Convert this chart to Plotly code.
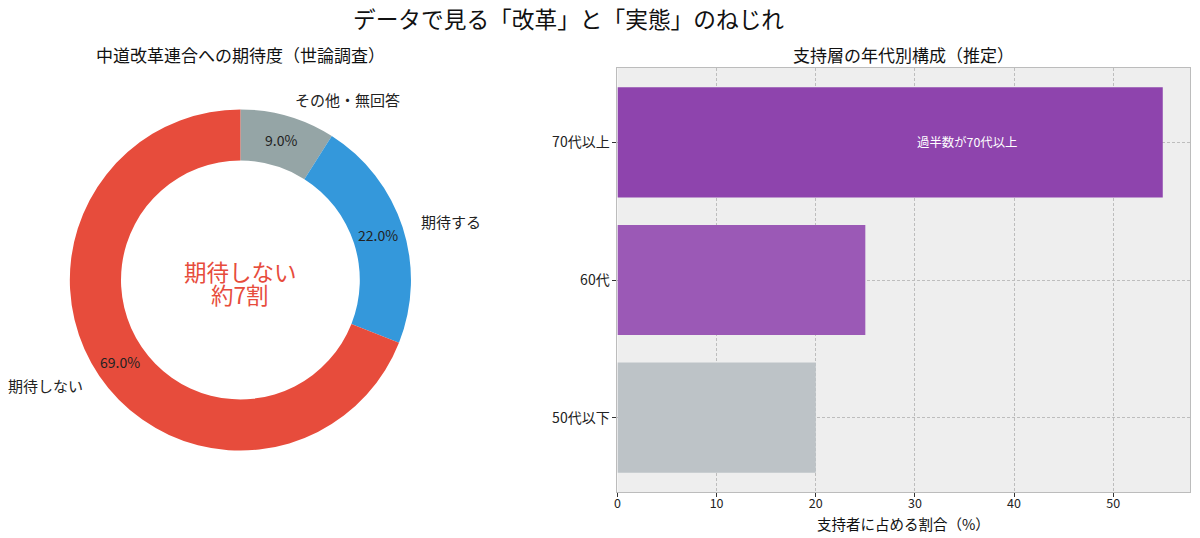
import numpy as np
import plotly.graph_objects as go

# --- data ---
pie_labels = ["その他・無回答", "期待する", "期待しない"]
pie_values = [9, 22, 69]
pie_colors = ["#95a5a6", "#3498db", "#e74c3c"]

age_groups = ["50代以下", "60代", "70代以上"]
age_shares = [20, 25, 55]
age_colors = ["#bdc3c7", "#9b59b6", "#8e44ad"]

center_lines = ["期待しない", "約7割"]

W, H = 1200, 538
FONT = "Noto Sans CJK JP"

# donut placement (pixels)
cx, cy, R = 238, 280, 171


def px_x(x):
    return x / W


def px_y(y):
    return 1 - y / H


fig = go.Figure()

fig.add_trace(go.Pie(
    labels=pie_labels,
    values=pie_values,
    marker=dict(colors=pie_colors, line=dict(width=0)),
    hole=0.7,
    sort=False,
    direction="clockwise",
    rotation=0,
    textinfo="none",
    hoverinfo="label+percent",
    showlegend=False,
    domain=dict(x=[px_x(cx - R), px_x(cx + R)], y=[px_y(cy + R), px_y(cy - R)]),
))

fig.add_trace(go.Bar(
    x=age_shares,
    y=age_groups,
    orientation="h",
    width=0.8,
    marker=dict(color=age_colors, line=dict(width=0)),
    showlegend=False,
    xaxis="x",
    yaxis="y",
))

# invisible trace on an overlay subplot so the grid is drawn above the bars
fig.add_trace(go.Scatter(
    x=age_shares,
    y=age_groups,
    mode="markers",
    marker=dict(opacity=0),
    hoverinfo="skip",
    showlegend=False,
    xaxis="x2",
    yaxis="y2",
))

annotations = []

# pie labels / percentages, placed like matplotlib (labeldistance 1.1, pctdistance 0.85)
total = float(sum(pie_values))
cum = 0.0
for lab, v in zip(pie_labels, pie_values):
    frac = v / total
    ang = np.deg2rad(90 - 360 * (cum + frac / 2))
    cum += frac
    lx, ly = cx + 1.1 * R * np.cos(ang), cy - 1.1 * R * np.sin(ang)
    annotations.append(dict(
        x=px_x(lx), y=px_y(ly), xref="paper", yref="paper",
        text=lab, showarrow=False,
        xanchor="left" if np.cos(ang) > 0 else "right", yanchor="middle",
        font=dict(family=FONT, size=15, color="#222"),
    ))
    tx, ty = cx + 0.85 * R * np.cos(ang), cy - 0.85 * R * np.sin(ang)
    annotations.append(dict(
        x=px_x(tx), y=px_y(ty), xref="paper", yref="paper",
        text=f"{frac * 100:.1f}%", showarrow=False,
        xanchor="center", yanchor="middle",
        font=dict(family=FONT, size=14, color="#222"),
    ))

# centre text (two lines, tight spacing)
for i, line in enumerate(center_lines):
    annotations.append(dict(
        x=px_x(cx), y=px_y(cy - 9 + 23 * i), xref="paper", yref="paper",
        text=line, showarrow=False,
        xanchor="center", yanchor="middle",
        font=dict(family=FONT, size=22.5, color="#e74c3c"),
    ))

# bar annotation
annotations.append(dict(
    x=30, y="70代以上", xref="x", yref="y",
    text="過半数が70代以上", showarrow=False,
    xanchor="left", yanchor="middle",
    font=dict(family=FONT, size=12.4, color="white"),
))

# titles
annotations += [
    dict(x=px_x(567), y=px_y(18), xref="paper", yref="paper",
         text="データで見る「改革」と「実態」のねじれ", showarrow=False,
         xanchor="center", yanchor="middle",
         font=dict(family=FONT, size=22.7, color="#111")),
    dict(x=px_x(238), y=px_y(55), xref="paper", yref="paper",
         text="中道改革連合への期待度（世論調査）", showarrow=False,
         xanchor="center", yanchor="middle",
         font=dict(family=FONT, size=17, color="#111")),
    dict(x=px_x(903), y=px_y(55), xref="paper", yref="paper",
         text="支持層の年代別構成（推定）", showarrow=False,
         xanchor="center", yanchor="middle",
         font=dict(family=FONT, size=17, color="#111")),
    dict(x=px_x(903), y=px_y(523), xref="paper", yref="paper",
         text="支持者に占める割合（%）", showarrow=False,
         xanchor="center", yanchor="middle",
         font=dict(family=FONT, size=14.5, color="#111")),
]

x_dom = [px_x(616), px_x(1190)]
y_dom = [px_y(492), px_y(68)]
x_ticks = [0, 10, 20, 30, 40, 50]
grid = dict(showgrid=True, gridcolor="#bdbdbd", griddash="3px,2px", gridwidth=0.8)

fig.update_layout(
    width=W,
    height=H,
    margin=dict(l=0, r=0, t=0, b=0),
    paper_bgcolor="white",
    plot_bgcolor="#eeeeee",
    font=dict(family=FONT, size=13, color="#222"),
    annotations=annotations,
    xaxis=dict(
        domain=x_dom,
        range=[0, 57.75],
        tickvals=x_ticks,
        showgrid=False,
        zeroline=False,
        showline=True, mirror=True, linecolor="#bcbcbc", linewidth=1,
        ticks="outside", ticklen=4, tickcolor="#333",
        ticklabelstandoff=-4,
        tickfont=dict(family=FONT, size=12.5, color="#222"),
        anchor="y",
    ),
    yaxis=dict(
        domain=y_dom,
        type="category",
        categoryorder="array",
        categoryarray=age_groups,
        range=[-0.54, 2.54],
        showgrid=False,
        zeroline=False,
        showline=True, mirror=True, linecolor="#bcbcbc", linewidth=1,
        ticks="outside", ticklen=4, tickcolor="#333",
        tickfont=dict(family=FONT, size=14, color="#222"),
        anchor="x",
    ),
    xaxis2=dict(
        overlaying="x", matches="x", anchor="y2",
        range=[0, 57.75], tickvals=x_ticks,
        showticklabels=False, ticks="", zeroline=False, showline=False,
        **grid,
    ),
    yaxis2=dict(
        overlaying="y", matches="y", anchor="x2",
        type="category", categoryorder="array", categoryarray=age_groups,
        range=[-0.54, 2.54],
        showticklabels=False, ticks="", zeroline=False, showline=False,
        **grid,
    ),
)

fig.write_html(
    "out.html",
    config={"displayModeBar": False},
    post_script="document.body.style.margin='0';",
)
